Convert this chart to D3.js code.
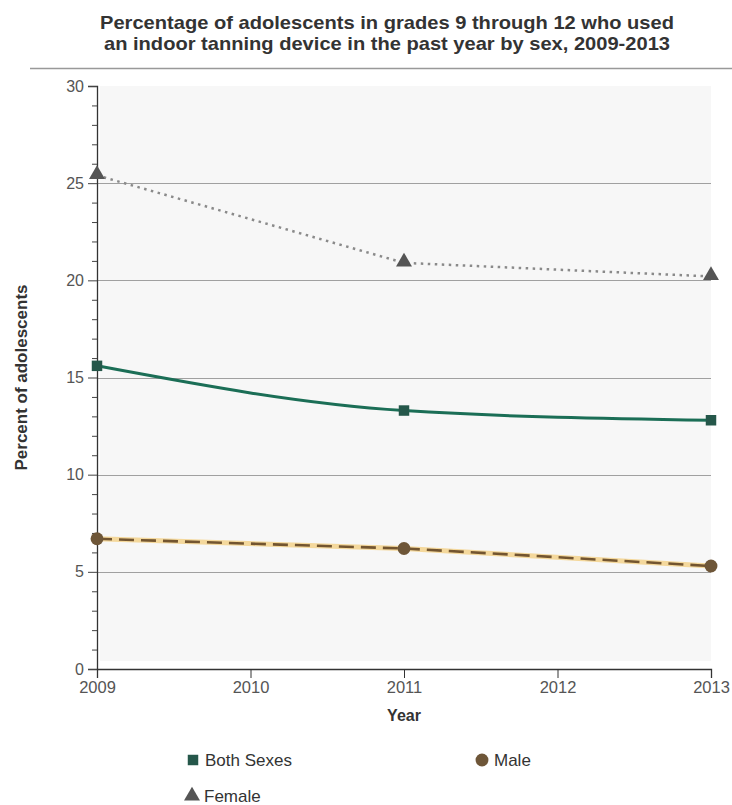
<!DOCTYPE html>
<html>
<head>
<meta charset="utf-8">
<script src="https://cdn.jsdelivr.net/npm/d3@7"></script>
<style>
body{margin:0;background:#fff;}
svg{display:block;font-family:"Liberation Sans",Arial,sans-serif;}
</style>
</head>
<body>
<svg id="chart" width="732" height="805"></svg>
<script>
const years = [2009, 2011, 2013];
const bothSexes = [15.6, 13.3, 12.8];
const male = [6.7, 6.2, 5.3];
const female = [25.4, 20.9, 20.2];
const xTicks = [2009, 2010, 2011, 2012, 2013];
const yTicks = [0, 5, 10, 15, 20, 25, 30];
const titleLines = ["Percentage of adolescents in grades 9 through 12 who used",
                    "an indoor tanning device in the past year by sex, 2009-2013"];

const svg = d3.select("#chart");
const x = d3.scaleLinear().domain([2009, 2013]).range([97, 711]);
const y = d3.scaleLinear().domain([0, 30]).range([669, 86]);

// title
svg.append("g").selectAll("text").data(titleLines).join("text")
  .attr("x", 387).attr("y", (d,i)=>29 + i*21)
  .attr("text-anchor","middle").attr("font-size", 18.5).attr("font-weight","bold")
  .attr("textLength", (d,i)=> i===0 ? 574 : 566).attr("lengthAdjust","spacingAndGlyphs")
  .attr("fill","#333").text(d=>d);
svg.append("line").attr("x1",30).attr("x2",732).attr("y1",68.5).attr("y2",68.5)
  .attr("stroke","#999").attr("stroke-width",1.5);

// plot background
svg.append("rect").attr("x",x(2009)+3).attr("y",y(30)).attr("width",x(2013)-x(2009)-3)
  .attr("height",y(0)-y(30)-8).attr("fill","#f7f7f7");

// gridlines
svg.append("g").selectAll("line").data(yTicks.filter(d=>d>0 && d<30)).join("line")
  .attr("x1",x(2009)).attr("x2",x(2013)).attr("y1",d=>Math.round(y(d))+0.5).attr("y2",d=>Math.round(y(d))+0.5)
  .attr("stroke","#a0a0a0").attr("stroke-width",1);

// y axis
const yAxis = d3.axisLeft(y).tickValues(yTicks).tickSize(9).tickPadding(4);
const gy = svg.append("g").attr("transform",`translate(${x(2009)},0)`).call(yAxis);
const yMinor = d3.axisLeft(y).tickValues(d3.range(0,31,1).filter(v=>v%5)).tickSize(5).tickFormat("");
const gym = svg.append("g").attr("transform",`translate(${x(2009)},0)`).call(yMinor);
gym.select(".domain").remove();
[gy,gym].forEach(g=>{
  g.selectAll("line").attr("stroke","#444");
  g.select(".domain").attr("stroke","#333").attr("stroke-width",1.3);
});
gy.selectAll("text").attr("font-size",16).attr("fill","#555");

// x axis
const xAxis = d3.axisBottom(x).tickValues(xTicks).tickFormat(d3.format("d")).tickSize(9).tickPadding(3);
const gx = svg.append("g").attr("transform",`translate(0,${y(0)})`).call(xAxis);
gx.select(".domain").attr("stroke","#333").attr("stroke-width",1.3);
gx.selectAll("line").attr("stroke","#333");
gx.selectAll("text").attr("font-size",16.5).attr("fill","#555");

// axis titles
svg.append("text").attr("x",x(2011)).attr("y",721).attr("text-anchor","middle")
  .attr("font-size",16).attr("font-weight","bold").attr("fill","#333").text("Year");
svg.append("text").attr("transform",`translate(27,${y(15)}) rotate(-90)`).attr("text-anchor","middle")
  .attr("font-size",16.5).attr("font-weight","bold").attr("fill","#333")
  .attr("textLength",186).attr("lengthAdjust","spacingAndGlyphs").text("Percent of adolescents");

const pts = arr => years.map((yr,i)=>[yr, arr[i]]);
const lineSmooth = d3.line().x(d=>x(d[0])).y(d=>y(d[1])).curve(d3.curveMonotoneX);
const lineStraight = d3.line().x(d=>x(d[0])).y(d=>y(d[1]));

// female
svg.append("path").attr("d",lineStraight(pts(female))).attr("fill","none")
  .attr("stroke","#8a8a8a").attr("stroke-width",2.5).attr("stroke-dasharray","2.5,4.5");
// both sexes
svg.append("path").attr("d",lineSmooth(pts(bothSexes))).attr("fill","none")
  .attr("stroke","#1b6e56").attr("stroke-width",3);
// male
svg.append("path").attr("d",lineStraight(pts(male))).attr("fill","none")
  .attr("stroke","#f4d89c").attr("stroke-width",5);
svg.append("path").attr("d",lineStraight(pts(male))).attr("fill","none")
  .attr("stroke","#735530").attr("stroke-width",2.6).attr("stroke-dasharray","15,7");

const tri = d3.symbol().type(d3.symbolTriangle).size(110);
const sq = d3.symbol().type(d3.symbolSquare).size(110);
const circ = d3.symbol().type(d3.symbolCircle).size(130);

svg.append("g").selectAll("path").data(pts(female)).join("path")
  .attr("d",tri).attr("transform",d=>`translate(${x(d[0])},${y(d[1])-1})`).attr("fill","#555");
svg.append("g").selectAll("path").data(pts(bothSexes)).join("path")
  .attr("d",sq).attr("transform",d=>`translate(${x(d[0])},${y(d[1])})`).attr("fill","#25574a");
svg.append("g").selectAll("path").data(pts(male)).join("path")
  .attr("d",circ).attr("transform",d=>`translate(${x(d[0])},${y(d[1])})`).attr("fill","#6e5638");

// legend
const legend = [
  {name:"Both Sexes", sym:sq, color:"#25574a", lx:193, ly:760},
  {name:"Male", sym:circ, color:"#6e5638", lx:482, ly:760},
  {name:"Female", sym:tri, color:"#555", lx:192, ly:796}
];
const lg = svg.append("g").selectAll("g").data(legend).join("g")
  .attr("transform",d=>`translate(${d.lx},${d.ly})`);
lg.append("path").attr("d",d=>d.sym()).attr("fill",d=>d.color);
lg.append("text").attr("x",12).attr("y",6).attr("font-size",17).attr("fill","#333").text(d=>d.name);
</script>
</body>
</html>
